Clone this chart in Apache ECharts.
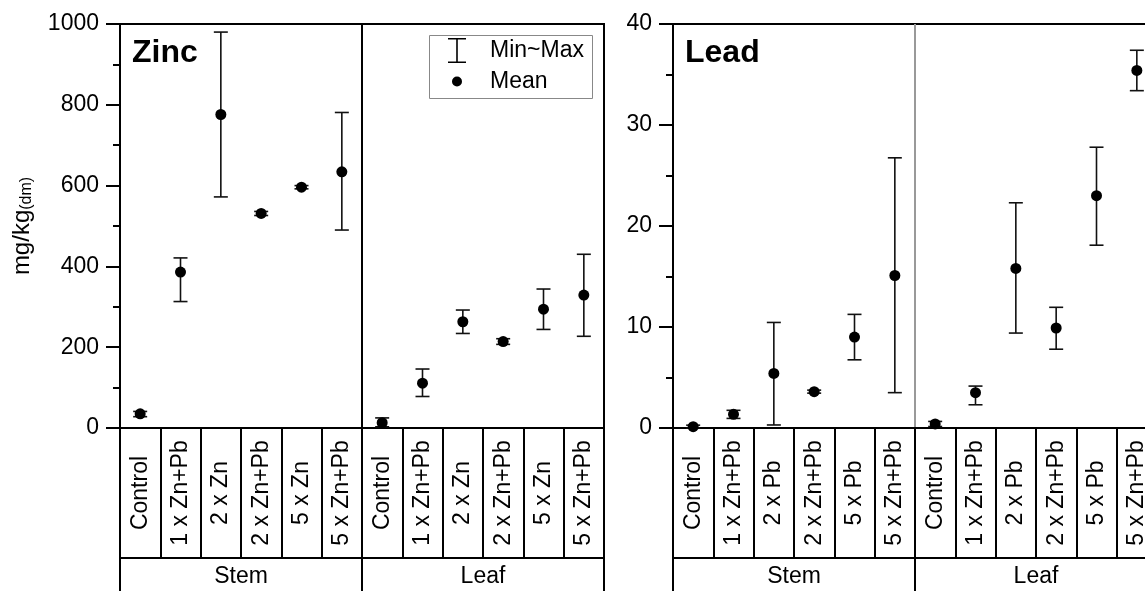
<!DOCTYPE html>
<html>
<head>
<meta charset="utf-8">
<script src="https://cdn.jsdelivr.net/npm/echarts/dist/echarts.min.js"></script>
<style>
  html, body { margin: 0; padding: 0; background: #fff; overflow: hidden; }
  /* the right panel runs past the window edge, as in the original figure */
  #main { width: 1160px; height: 591px; }
</style>
</head>
<body>
<div id="main"></div>
<script>
// categories
const zincCats = ['Control', '1 x Zn+Pb', '2 x Zn', '2 x Zn+Pb', '5 x Zn', '5 x Zn+Pb'];
const leadCats = ['Control', '1 x Zn+Pb', '2 x Pb', '2 x Zn+Pb', '5 x Pb', '5 x Zn+Pb'];
const organs = ['Stem', 'Leaf'];

// zinc, mg/kg (stem x6 then leaf x6)
const zincMean = [35, 386, 776, 531, 596, 634, 13, 111, 263, 214, 294, 329];
const zincMin = [28, 313, 572, 526, 592, 490, 3, 78, 234, 207, 244, 227];
const zincMax = [41, 421, 980, 536, 600, 781, 25, 146, 292, 221, 344, 430];

// lead, mg/kg
const leadMean = [0.13, 1.35, 5.4, 3.6, 9.0, 15.1, 0.4, 3.5, 15.8, 9.9, 23.0, 35.4];
const leadMin = [0.0, 0.95, 0.3, 3.45, 6.75, 3.5, 0.15, 2.3, 9.4, 7.8, 18.1, 33.4];
const leadMax = [0.28, 1.75, 10.45, 3.75, 11.25, 26.75, 0.65, 4.15, 22.3, 11.95, 27.8, 37.4];

const zincTicks = { min: 0, max: 1000, interval: 200 };
const leadTicks = { min: 0, max: 40, interval: 10 };

const FONT = '"Liberation Sans", Arial, sans-serif';
const black = '#000';
const FS = 23;

function errorBar(params, api) {
  const x = api.value(0);
  const lo = api.coord([x, api.value(1)]);
  const hi = api.coord([x, api.value(2)]);
  const half = 7;
  const style = { stroke: '#111', lineWidth: 1.6 };
  return {
    type: 'group',
    children: [
      { type: 'line', shape: { x1: lo[0], y1: lo[1], x2: hi[0], y2: hi[1] }, style: style },
      { type: 'line', shape: { x1: lo[0] - half, y1: lo[1], x2: lo[0] + half, y2: lo[1] }, style: style },
      { type: 'line', shape: { x1: hi[0] - half, y1: hi[1], x2: hi[0] + half, y2: hi[1] }, style: style }
    ]
  };
}

function catAxis(gi, cats) {
  // treatment row: labels rotated, ticks form the table cells
  const all = cats.concat(cats);
  return {
    type: 'category', gridIndex: gi, data: all, position: 'bottom',
    axisLine: { show: true, lineStyle: { color: black, width: 2 } },
    axisTick: { show: true, interval: 0, length: 130, lineStyle: { color: black, width: 2 } },
    axisLabel: {
      interval: 0, rotate: 90, align: 'center', verticalAlign: 'middle', margin: 65,
      color: black, fontSize: FS, fontFamily: FONT
    },
    splitLine: { show: false }
  };
}

function organAxis(gi, divColor) {
  return {
    type: 'category', gridIndex: gi, data: organs, position: 'bottom', offset: 130,
    axisLine: { show: true, lineStyle: { color: black, width: 2 } },
    axisTick: { show: true, interval: 0, length: 40, lineStyle: { color: black, width: 2 } },
    axisLabel: { interval: 0, margin: 7, color: black, fontSize: FS, fontFamily: FONT },
    splitLine: { show: true, interval: 0, lineStyle: { color: divColor, width: 2 } }
  };
}

function valAxis(gi, t, name) {
  const ax = {
    type: 'value', gridIndex: gi, min: t.min, max: t.max, interval: t.interval,
    axisLine: { show: true, lineStyle: { color: black, width: 2 } },
    axisTick: { show: true, inside: false, length: 14, lineStyle: { color: black, width: 2 } },
    minorTick: { show: true, splitNumber: 2, length: 7, lineStyle: { color: black, width: 2 } },
    axisLabel: { color: black, fontSize: FS, fontFamily: FONT, margin: 21, formatter: v => String(v) },
    splitLine: { show: false }
  };
  if (name) {
    ax.name = '{a|mg/kg}{b|(dm)}';
    ax.nameLocation = 'middle';
    ax.nameRotate = 90;
    ax.nameGap = 85;
    ax.nameTextStyle = {
      color: black, fontFamily: FONT,
      rich: {
        a: { fontSize: 24, fontFamily: FONT, color: black },
        b: { fontSize: 16, fontFamily: FONT, color: black, verticalAlign: 'bottom', padding: [10, 0, 0, 0] }
      }
    };
  }
  return ax;
}

function pairs(mins, maxs) {
  return mins.map((m, i) => [i, m, maxs[i]]);
}

const chart = echarts.init(document.getElementById('main'));

const option = {
  animation: false,
  title: [
    { text: 'Zinc', left: 127, top: 32, textStyle: { fontSize: 32, fontWeight: 'bold', color: black, fontFamily: FONT } },
    { text: 'Lead', left: 680, top: 32, textStyle: { fontSize: 32, fontWeight: 'bold', color: black, fontFamily: FONT } }
  ],
  legend: [
    {
      data: ['Min~Max'], left: 448, top: 38, itemWidth: 18, itemHeight: 25,
      icon: 'path://M0,0h18v1.6h-8.2v21.8h8.2v1.6h-18v-1.6h8.2v-21.8h-8.2z',
      textStyle: { fontSize: FS, color: black, fontFamily: FONT, padding: [0, 0, 0, 19] },
      selectedMode: false, padding: 0
    },
    {
      data: ['Mean'], left: 452, top: 70, itemWidth: 10, itemHeight: 10, icon: 'circle',
      itemStyle: { opacity: 1 },
      textStyle: { fontSize: FS, color: black, fontFamily: FONT, padding: [0, 0, 0, 23] },
      selectedMode: false, padding: 0
    }
  ],
  graphic: [
    { type: 'rect', left: 427, top: 33, shape: { width: 163, height: 63 },
      style: { fill: 'none', stroke: '#888', lineWidth: 1 }, z: 10 }
  ],
  grid: [
    { left: 120, top: 24, width: 484, height: 404, show: true, borderColor: black, borderWidth: 2 },
    { left: 673, top: 24, width: 484, height: 404, show: true, borderColor: black, borderWidth: 2 }
  ],
  xAxis: [
    catAxis(0, zincCats), organAxis(0, black),
    catAxis(1, leadCats), organAxis(1, '#999')
  ],
  yAxis: [valAxis(0, zincTicks, true), valAxis(1, leadTicks, false)],
  series: [
    { name: 'Min~Max', type: 'custom', xAxisIndex: 0, yAxisIndex: 0, renderItem: errorBar,
      itemStyle: { color: black }, encode: { x: 0, y: [1, 2] }, data: pairs(zincMin, zincMax), z: 3 },
    { name: 'Mean', type: 'scatter', xAxisIndex: 0, yAxisIndex: 0, symbolSize: 11,
      itemStyle: { color: black, opacity: 1 }, data: zincMean.map((v, i) => [i, v]), z: 4 },
    { name: 'Min~Max', type: 'custom', xAxisIndex: 2, yAxisIndex: 1, renderItem: errorBar,
      itemStyle: { color: black }, encode: { x: 0, y: [1, 2] }, data: pairs(leadMin, leadMax), z: 3 },
    { name: 'Mean', type: 'scatter', xAxisIndex: 2, yAxisIndex: 1, symbolSize: 11,
      itemStyle: { color: black, opacity: 1 }, data: leadMean.map((v, i) => [i, v]), z: 4 }
  ]
};

chart.setOption(option);
</script>
</body>
</html>
